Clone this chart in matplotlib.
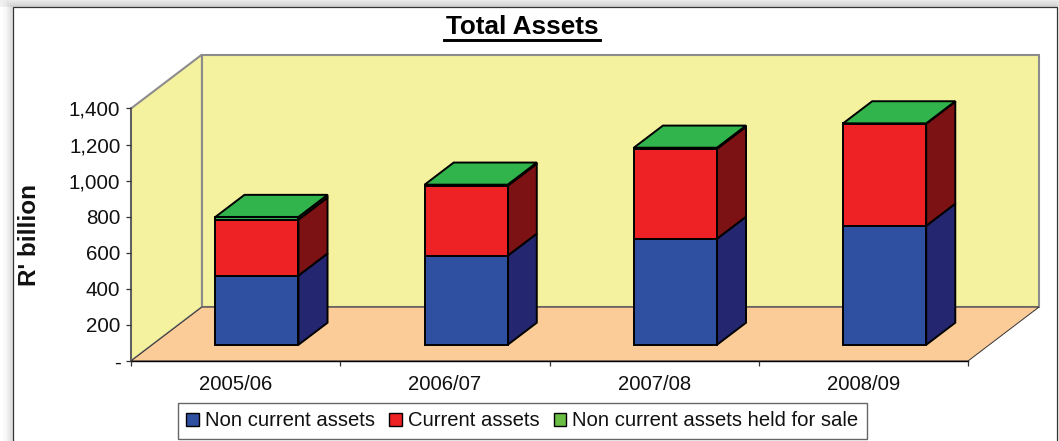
import matplotlib
matplotlib.use('Agg')
import matplotlib.pyplot as plt
from matplotlib.patches import Polygon, Rectangle, Patch

plt.rcParams['font.family'] = ['Liberation Sans', 'DejaVu Sans']

# Data
years     = ['2005/06', '2006/07', '2007/08', '2008/09']
non_curr  = [384, 494, 588, 660]
curr      = [310, 388, 499, 566]
held_sale = [15, 6, 6, 2]
yticks    = [0, 200, 400, 600, 800, 1000, 1200, 1400]
ylabels   = ['-', '200', '400', '600', '800', '1,000', '1,200', '1,400']
names     = ['Non current assets', 'Current assets', 'Non current assets held for sale']

# Settings
W, H      = 1059, 441
ax_left, ax_right, ax_top, ax_bottom = 131, 968, 108.5, 361
depth_x   = 0.339     # full depth of the box, in categories
depth_y   = 299.0     # full depth of the box, in value units
bar_width = 0.397
bar_near  = 0.30      # bars sit between these depths
bar_far   = 0.71

wall_col  = '#F4F19F'
floor_col = '#FBCB98'
wall_line = '#8C8C8C'
front_col = ['#2F50A1', '#EE2224', '#31B44B']
side_col  = ['#24276F', '#7C1214', '#1F7A35']
legend_col = ['#2F50A1', '#EE2224', '#6ABD45']


def project(x, y, d):
    return x + d * depth_x, y + d * depth_y


def face(ax, corners, color, lw=1.4, edge='black', z=2):
    pts = [project(*c) for c in corners]
    ax.add_patch(Polygon(pts, closed=True, facecolor=color, edgecolor=edge,
                         linewidth=lw, joinstyle='miter', clip_on=False, zorder=z))


def px_rect(fig, x0, y0, x1, y1, **kw):
    fig.add_artist(Rectangle((x0 / W, 1 - y1 / H), (x1 - x0) / W, (y1 - y0) / H,
                             transform=fig.transFigure, zorder=-1, **kw))


def draw_box(ax):
    xmin, xmax = ax.get_xlim()
    ymin, ymax = ax.get_ylim()
    # back wall, left wall, floor
    face(ax, [(xmin, ymin, 1), (xmax, ymin, 1), (xmax, ymax, 1), (xmin, ymax, 1)],
         wall_col, lw=1.5, edge=wall_line, z=1)
    face(ax, [(xmin, ymin, 0), (xmin, ymin, 1), (xmin, ymax, 1), (xmin, ymax, 0)],
         wall_col, lw=1.5, edge=wall_line, z=1)
    face(ax, [(xmin, ymin, 0), (xmax, ymin, 0), (xmax, ymin, 1), (xmin, ymin, 1)],
         floor_col, lw=0.7, edge='#333333', z=1.1)


def draw_bars(ax):
    for i in range(len(years)):
        x0 = i - bar_width / 2
        x1 = i + bar_width / 2
        base = 0
        for j, series in enumerate([non_curr, curr, held_sale]):
            top = base + series[i]
            face(ax, [(x1, base, bar_near), (x1, base, bar_far), (x1, top, bar_far), (x1, top, bar_near)],
                 side_col[j])
            face(ax, [(x0, base, bar_near), (x1, base, bar_near), (x1, top, bar_near), (x0, top, bar_near)],
                 front_col[j])
            base = top
        face(ax, [(x0, base, bar_near), (x1, base, bar_near), (x1, base, bar_far), (x0, base, bar_far)],
             front_col[2])


fig = plt.figure(figsize=(W / 100, H / 100), dpi=100, facecolor='white')

# Soft shadow round the chart frame, then the frame
for k, alpha in zip([9, 6, 4, 2], [0.02, 0.03, 0.03, 0.04]):
    px_rect(fig, 12 - k, 7 - k, 1057 + k / 3, 460, facecolor='black', alpha=alpha, edgecolor='none')
px_rect(fig, 0, 0, W, 7, facecolor='black', alpha=0.06, edgecolor='none')
px_rect(fig, 12.5, 7.5, 1056.5, 460, facecolor='white', edgecolor='#333333', linewidth=0.9)

ax = fig.add_axes([ax_left / W, 1 - ax_bottom / H, (ax_right - ax_left) / W, (ax_bottom - ax_top) / H])
ax.patch.set_visible(False)
ax.set_xlim(-0.5, len(years) - 0.5)
ax.set_ylim(0, 1400)

draw_box(ax)
draw_bars(ax)

for side in ['top', 'right']:
    ax.spines[side].set_visible(False)
ax.spines['left'].set_color('#555555')
ax.spines['left'].set_linewidth(1.1)
ax.spines['bottom'].set_linewidth(1.0)
for side in ['left', 'bottom']:
    ax.spines[side].set_zorder(1.5)

ax.set_yticks(yticks)
ax.set_yticklabels(ylabels, fontsize=14.8)
ax.tick_params(axis='y', length=3.6, width=0.9, color='#333333', pad=4, labelcolor='#111111')
ax.set_xticks([i - 0.5 for i in range(len(years) + 1)])
ax.set_xticklabels([])
ax.set_xticks(range(len(years)), minor=True)
ax.set_xticklabels(years, minor=True, fontsize=14.6, color='#111111')
ax.tick_params(axis='x', which='major', length=3.6, width=0.9, color='#333333')
ax.tick_params(axis='x', which='minor', length=0, pad=10)

fig.text(30 / W, 1 - 235 / H, "R' billion", rotation=90, fontsize=17.5, fontweight='bold',
         ha='center', va='center', color='#111111')

fig.text(522 / W, 1 - 27 / H, 'Total Assets', fontsize=18.8, fontweight='bold',
         ha='center', va='center', color='black')
fig.add_artist(plt.Line2D([444 / W, 600 / W], [1 - 40 / H, 1 - 40 / H], color='black',
                          linewidth=2.1, transform=fig.transFigure))

handles = [Patch(facecolor=c, edgecolor='black', linewidth=1.0) for c in legend_col]
leg = fig.legend(handles, names, ncol=3, loc='center', bbox_to_anchor=(522.5 / W, 1 - 421 / H),
                 fontsize=14.6, frameon=True, fancybox=False, framealpha=1, edgecolor='#666666',
                 handlelength=0.62, handleheight=0.62, handletextpad=0.3, columnspacing=0.7,
                 borderpad=0.42, borderaxespad=0, labelcolor='#111111')
leg.get_frame().set_linewidth(1.0)

fig.savefig('out.png', dpi=100)
